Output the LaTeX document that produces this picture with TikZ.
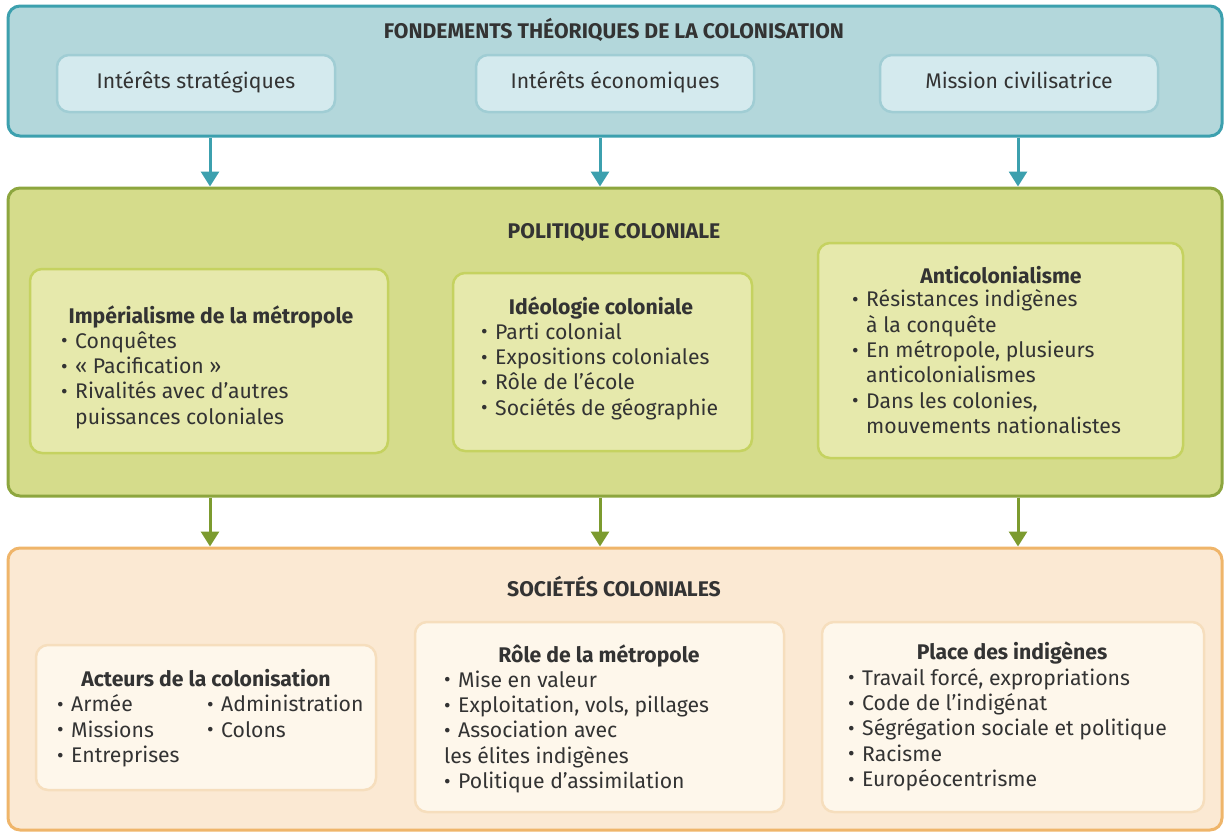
\documentclass[tikz,border=0pt]{standalone}
\usepackage{fontspec}
\setmainfont{Fira Sans}
\usetikzlibrary{arrows.meta}
\definecolor{txtc}{HTML}{333333}
\definecolor{tealB}{HTML}{3CA0AE}
\definecolor{tealF}{HTML}{B3D7DB}
\definecolor{tealSB}{HTML}{A0CDD4}
\definecolor{tealSF}{HTML}{D4EAEE}
\definecolor{grnB}{HTML}{8DA63E}
\definecolor{grnF}{HTML}{D5DC8B}
\definecolor{grnSB}{HTML}{C5D260}
\definecolor{grnSF}{HTML}{E6E9AC}
\definecolor{grnA}{HTML}{7C9B2F}
\definecolor{orB}{HTML}{EFB56A}
\definecolor{orF}{HTML}{FBE9D3}
\definecolor{orSB}{HTML}{F6DEBD}
\definecolor{orSF}{HTML}{FEF7EB}
\newcommand\fs{\fontsize{21.2}{25.4}\selectfont}
\newcommand\bul{\makebox[14pt][l]{\raisebox{0.02em}{\scalebox{0.95}{•}}}}
\newcommand\ind{\hspace*{14pt}}
\tikzset{
  outerbox/.style={draw, rectangle, rounded corners=12pt, line width=3pt, inner sep=0pt},
  subbox/.style={draw, rectangle, rounded corners=12pt, line width=2.5pt, inner sep=0pt},
  txt/.style={inner sep=0pt, text=txtc, font=\fs, align=left, anchor=north west},
  ttl/.style={inner sep=0pt, text=txtc, font=\fs\bfseries, anchor=base},
  plain/.style={inner sep=0pt, text=txtc, font=\fs, anchor=base},
  tarrow/.style={draw=tealB, line width=3pt, -{Triangle[width=18pt,length=15pt]}, tealB},
  garrow/.style={draw=grnA, line width=3pt, -{Triangle[width=18pt,length=15pt]}, grnA},
}
\begin{document}
\begin{tikzpicture}[x=1pt,y=-1pt]
\useasboundingbox (0,0) rectangle (1228,833);
% outer boxes
\node[outerbox, draw=tealB, fill=tealF, minimum width=1214pt, minimum height=130pt] (top) at (615,71) {};
\node[outerbox, draw=grnB, fill=grnF, minimum width=1214pt, minimum height=308pt] (mid) at (615,342) {};
\node[outerbox, draw=orB, fill=orF, minimum width=1214pt, minimum height=282pt] (bot) at (615,689) {};
% arrows
\coordinate (c1) at (210,0);
\coordinate (c2) at (600,0);
\coordinate (c3) at (1018,0);
\draw[tarrow] (top.south -| c1) -- (mid.north -| c1);
\draw[tarrow] (top.south -| c2) -- (mid.north -| c2);
\draw[tarrow] (top.south -| c3) -- (mid.north -| c3);
\draw[garrow] (mid.south -| c1) -- (bot.north -| c1);
\draw[garrow] (mid.south -| c2) -- (bot.north -| c2);
\draw[garrow] (mid.south -| c3) -- (bot.north -| c3);
% top
\node[ttl] (toptitle) at (614,38) {FONDEMENTS THÉORIQUES DE LA COLONISATION};
\node[subbox, draw=tealSB, fill=tealSF, minimum width=278pt, minimum height=57pt] (t1) at (196,83.5) {};
\node[subbox, draw=tealSB, fill=tealSF, minimum width=278pt, minimum height=57pt] (t2) at (615,83.5) {};
\node[subbox, draw=tealSB, fill=tealSF, minimum width=278pt, minimum height=57pt] (t3) at (1019,83.5) {};
\node[plain] (t1t) at (196,88) {Intérêts stratégiques};
\node[plain] (t2t) at (615,88) {Intérêts économiques};
\node[plain] (t3t) at (1019,88) {Mission civilisatrice};
% middle
\node[ttl] (midtitle) at (614,238) {POLITIQUE COLONIALE};
\node[subbox, draw=grnSB, fill=grnSF, minimum width=358pt, minimum height=184pt] (m1) at (209,361) {};
\node[subbox, draw=grnSB, fill=grnSF, minimum width=299pt, minimum height=178pt] (m2) at (602.5,362) {};
\node[subbox, draw=grnSB, fill=grnSF, minimum width=365pt, minimum height=215pt] (m3) at (1000.5,350.5) {};
\node[ttl] (m1t) at (211,323) {Impérialisme de la métropole};
\node[txt] (m1l) at (61,330.15) {\strut\bul Conquêtes\\\bul « Pacification »\\\bul Rivalités avec d’autres\\\ind puissances coloniales};
\node[ttl] (m2t) at (601,314) {Idéologie coloniale};
\node[txt] (m2l) at (481,321.15) {\strut\bul Parti colonial\\\bul Expositions coloniales\\\bul Rôle de l’école\\\bul Sociétés de géographie};
\node[ttl] (m3t) at (1001,283) {Anticolonialisme};
\node[txt] (m3l) at (852,288.65) {\strut\bul Résistances indigènes\\\ind à la conquête\\\bul En métropole, plusieurs\\\ind anticolonialismes\\\bul Dans les colonies,\\\ind mouvements nationalistes};
% bottom
\node[ttl] (bottitle) at (614,596) {SOCIÉTÉS COLONIALES};
\node[subbox, draw=orSB, fill=orSF, minimum width=340pt, minimum height=145pt] (b1) at (206,717.5) {};
\node[subbox, draw=orSB, fill=orSF, minimum width=369pt, minimum height=190pt] (b2) at (599.5,717) {};
\node[subbox, draw=orSB, fill=orSF, minimum width=382pt, minimum height=190pt] (b3) at (1013,717) {};
\node[ttl] (b1t) at (206,686) {Acteurs de la colonisation};
\node[txt] (b1l) at (57,693.65) {\strut\bul Armée\\\bul Missions\\\bul Entreprises};
\node[txt] (b1r) at (207,693.65) {\strut\bul Administration\\\bul Colons};
\node[ttl] (b2t) at (599,662) {Rôle de la métropole};
\node[txt] (b2l) at (444,669.15) {\strut\bul Mise en valeur\\\bul Exploitation, vols, pillages\\\bul Association avec\\les élites indigènes\\\bul Politique d’assimilation};
\node[ttl] (b3t) at (1012,659) {Place des indigènes};
\node[txt] (b3l) at (848,667.15) {\strut\bul Travail forcé, expropriations\\\bul Code de l’indigénat\\\bul Ségrégation sociale et politique\\\bul Racisme\\\bul Européocentrisme};
\end{tikzpicture}
\end{document}
